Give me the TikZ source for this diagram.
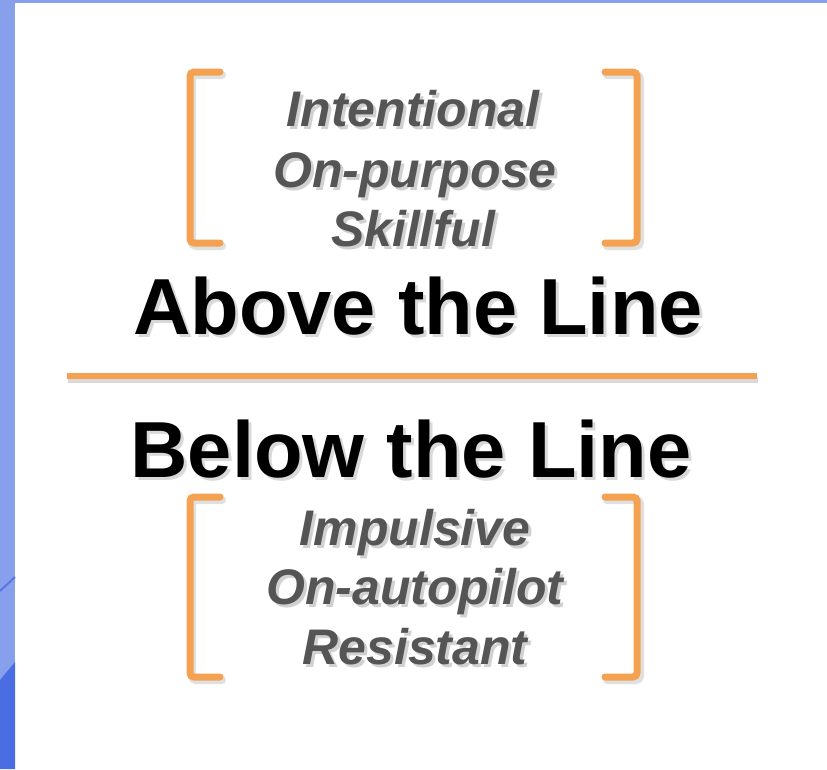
\documentclass[tikz,border=0pt]{standalone}
\usepackage{fontspec}
\setmainfont{Liberation Sans}
\definecolor{stripblue}{HTML}{889FEC}
\definecolor{deepblue}{HTML}{4A6DE2}
\definecolor{linkblue}{HTML}{5877E4}
\definecolor{brorange}{HTML}{F4A251}
\definecolor{wordgrey}{HTML}{555555}
\newcommand{\shadowed}[2]{\makebox[0pt][l]{\raisebox{-3pt}{\hspace{3pt}\textcolor{#1}{#2}}}#2}
\begin{document}
\begin{tikzpicture}[x=1pt,y=-1pt,
  bracket/.style={draw=brorange,line width=7pt,rounded corners=4pt,line cap=round},
  shadowbr/.style={draw=black!12,line width=8pt,rounded corners=4pt,line cap=round},
  bigtitle/.style={anchor=base,font=\fontsize{79.5}{82}\selectfont\bfseries,text=black,inner sep=0pt},
  word/.style={anchor=base,font=\fontsize{50}{54}\selectfont\bfseries\itshape,text=wordgrey,inner sep=0pt}]
\useasboundingbox (0,0) rectangle (827,769);
% background
\fill[stripblue] (0,0) rectangle (827,769);
\fill[white] (15,3) rectangle (827,769);
\fill[deepblue] (0,680) -- (15,662) -- (15,769) -- (0,769) -- cycle;
\draw[linkblue,line width=2pt] (0,591) -- (15,577);
% upper brackets
\draw[shadowbr] (222,75) -- (192,75) -- (192,246) -- (222,246);
\draw[shadowbr] (607,75) -- (640,75) -- (640,246) -- (607,246);
\draw[bracket] (220,72) -- (190,72) -- (190,243) -- (220,243);
\draw[bracket] (605,72) -- (637,72) -- (637,243) -- (605,243);
% lower brackets
\draw[shadowbr] (222,500) -- (192,500) -- (192,680) -- (222,680);
\draw[shadowbr] (607,500) -- (640,500) -- (640,680) -- (607,680);
\draw[bracket] (220,497) -- (190,497) -- (190,677) -- (220,677);
\draw[bracket] (605,497) -- (637,497) -- (637,677) -- (605,677);
% dividing line
\draw[black!15,line width=6pt] (68,380) -- (758,380);
\draw[brorange,line width=6pt] (67,376) -- (757,376);
% upper words
\node[word] (w1) at (413,126) {\shadowed{black!18}{Intentional}};
\node[word] (w2) at (415,187) {\shadowed{black!18}{On-purpose}};
\node[word] (w3) at (413,246) {\shadowed{black!18}{Skillful}};
% titles
\node[bigtitle] (t1) at (418,334) {\shadowed{black!15}{Above the Line}};
\node[bigtitle] (t2) at (411,477) {\shadowed{black!15}{Below the Line}};
% lower words
\node[word] (w4) at (415,545) {\shadowed{black!18}{Impulsive}};
\node[word] (w5) at (415,604) {\shadowed{black!18}{On-autopilot}};
\node[word] (w6) at (415,664) {\shadowed{black!18}{Resistant}};
\end{tikzpicture}
\end{document}
